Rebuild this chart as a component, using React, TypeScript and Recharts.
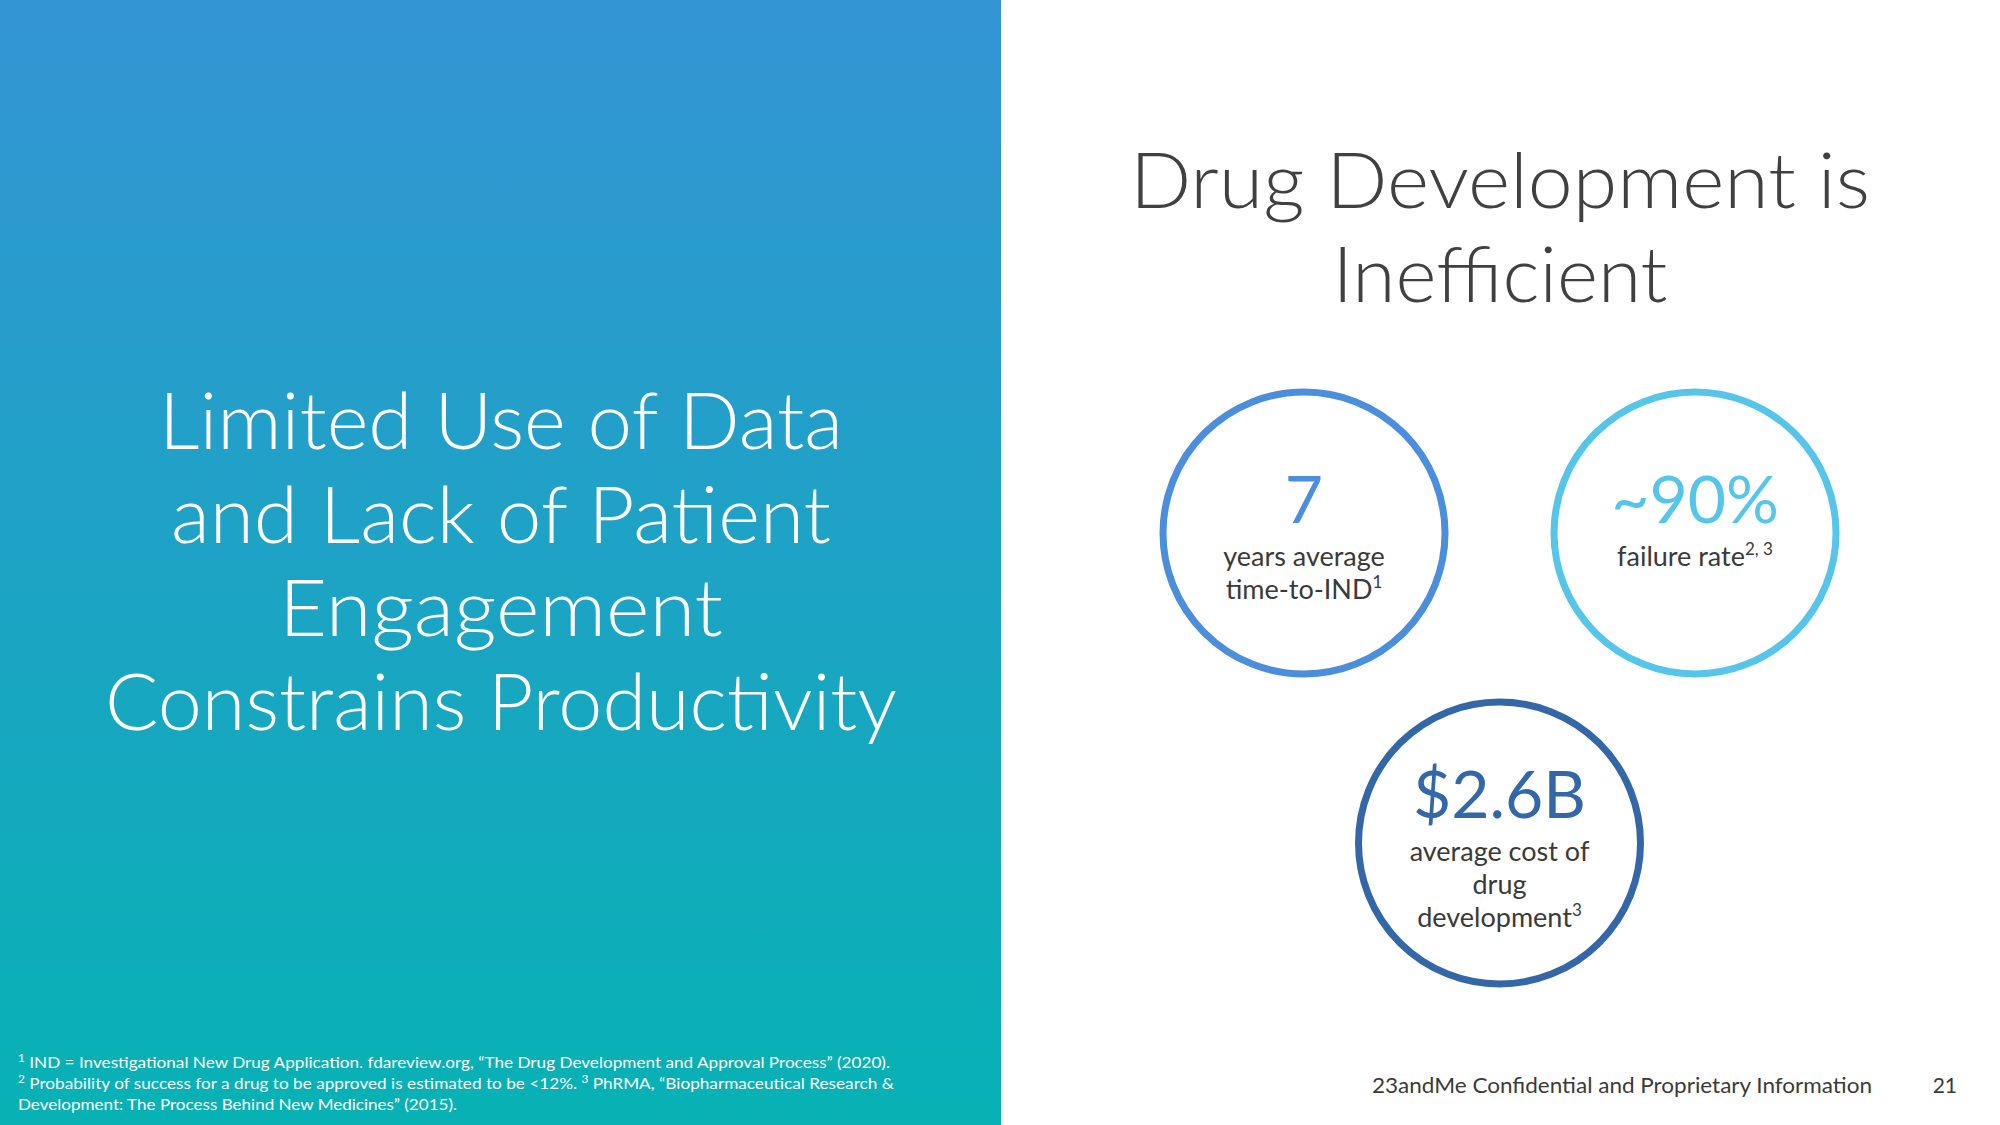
import { ScatterChart, Scatter, XAxis, YAxis } from 'recharts';

// slide copy
const leftLines = ['Limited Use of Data', 'and Lack of Patient', 'Engagement', 'Constrains Productivity'];
const leftWidths = [684, 660, 444, 792];
const titleLines = ['Drug Development is', 'Inefficient'];
const titleWidths = [740, 335];

// the three stat bubbles
const statValues = ['7', '~90%', '$2.6B'];
const statCaptions = [['years average', 'time-to-IND'], ['failure rate'], ['average cost of', 'drug', 'development']];
const statNotes = ['1', '2, 3', '3'];
const statColors = ['#4a8edc', '#55c6ea', '#3467a8'];

// footnotes: [text, superscript?]
const footnoteLines: [string, boolean][][] = [
    [['1', true], [' IND = Investigational New Drug Application. fdareview.org, \u201cThe Drug Development and Approval Process\u201d (2020).', false]],
    [['2', true], [' Probability of success for a drug to be approved is estimated to be <12%. ', false], ['3', true], [' PhRMA, \u201cBiopharmaceutical Research &', false]],
    [['Development: The Process Behind New Medicines\u201d (2015).', false]],
];
const footnoteWidths = [872, 876, 439];

const footerText = '23andMe Confidential and Proprietary Information';
const pageNumber = '21';

const FONT = 'Lato, "Open Sans", sans-serif';

// slot layout: two on top, one centred below
const slots = [
    { slotX: -1, slotY: 0 },
    { slotX: 1, slotY: 0 },
    { slotX: 0, slotY: 1 },
];

const statData = statValues.map((v, i) => ({
    value: v,
    captions: statCaptions[i],
    note: statNotes[i],
    color: statColors[i],
    ...slots[i],
}));

/* eslint-disable @typescript-eslint/no-explicit-any */
function StatBubble(props: any) {
    const { cx, cy, payload } = props;
    const n = payload.captions.length;
    const valueY = cy - 10 - Math.max(0, n - 2) * 15;
    return (
        <g>
            <circle cx={cx} cy={cy} r={141} fill="#fff" stroke={payload.color} strokeWidth={7} />
            <text x={cx} y={valueY} textAnchor="middle" fontFamily={FONT} fontSize={66} fill={payload.color}>
                {payload.value}
            </text>
            {payload.captions.map((c: string, i: number) => (
                <text
                    key={i}
                    x={cx}
                    y={valueY + 43 + i * 33}
                    textAnchor="middle"
                    fontFamily={FONT}
                    fontSize={27}
                    fill="#3a3a3a"
                >
                    {c}
                    {i === n - 1 && (
                        <tspan fontSize={17} dy={-11}>{payload.note}</tspan>
                    )}
                </text>
            ))}
        </g>
    );
}

export default function App() {
    return (
        <div style={{ position: 'absolute', left: 0, top: 0, width: 2000, height: 1125, background: '#fff', overflow: 'hidden' }}>
            <svg width={2000} height={1125} style={{ position: 'absolute', left: 0, top: 0 }}>
                <defs>
                    <linearGradient id="leftBg" x1="0" y1="0" x2="0" y2="1">
                        <stop offset="0%" stopColor="#3494d5" />
                        <stop offset="100%" stopColor="#06b2b4" />
                    </linearGradient>
                </defs>
                <rect x={0} y={0} width={1001} height={1125} fill="url(#leftBg)" />

                {leftLines.map((l, i) => (
                    <text
                        key={l}
                        x={501}
                        y={449 + i * 93.7}
                        textAnchor="middle"
                        fontFamily={FONT}
                        fontWeight={300}
                        fontSize={78}
                        fill="#fff"
                        textLength={leftWidths[i]}
                        lengthAdjust="spacingAndGlyphs"
                    >
                        {l}
                    </text>
                ))}

                {titleLines.map((l, i) => (
                    <text
                        key={l}
                        x={1500}
                        y={208 + i * 94}
                        textAnchor="middle"
                        fontFamily={FONT}
                        fontWeight={300}
                        fontSize={77}
                        fill="#404040"
                        textLength={titleWidths[i]}
                        lengthAdjust="spacingAndGlyphs"
                    >
                        {l}
                    </text>
                ))}

                {footnoteLines.map((segs, i) => (
                    <text
                        key={i}
                        x={18}
                        y={1068 + i * 21}
                        fontFamily={FONT}
                        fontSize={16}
                        fill="#fff"
                        textLength={footnoteWidths[i]}
                        lengthAdjust="spacingAndGlyphs"
                    >
                        {segs.map(([t, sup], j) =>
                            sup ? (
                                <tspan key={j} fontSize={11} dy={-6}>{t}</tspan>
                            ) : (
                                <tspan key={j} dy={j > 0 && segs[j - 1][1] ? 6 : 0}>{t}</tspan>
                            )
                        )}
                    </text>
                ))}

                <text x={1372} y={1093} fontFamily={FONT} fontSize={21} fill="#3a3a3a" textLength={500} lengthAdjust="spacingAndGlyphs">
                    {footerText}
                </text>
                <text x={1957} y={1093} textAnchor="end" fontFamily={FONT} fontSize={21} fill="#3a3a3a">
                    {pageNumber}
                </text>
            </svg>

            <div style={{ position: 'absolute', left: 1000, top: 0 }}>
                <ScatterChart width={1000} height={1125} margin={{ top: 533, right: 305, bottom: 282, left: 304 }}>
                    <XAxis type="number" dataKey="slotX" domain={[-1, 1]} hide />
                    <YAxis type="number" dataKey="slotY" domain={[0, 1]} reversed hide />
                    <Scatter data={statData} shape={<StatBubble />} isAnimationActive={false} />
                </ScatterChart>
            </div>
        </div>
    );
}
